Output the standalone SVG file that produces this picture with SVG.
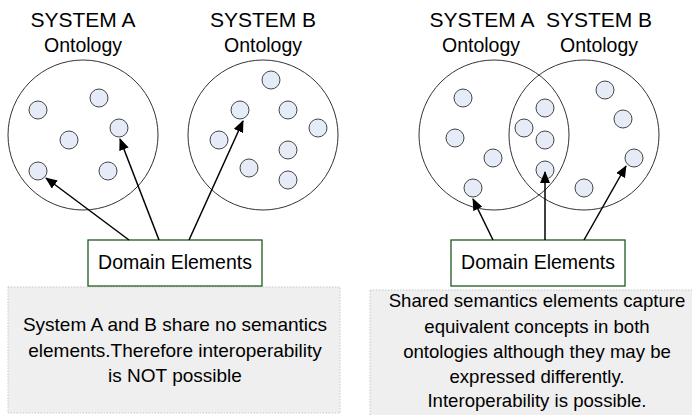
<svg xmlns="http://www.w3.org/2000/svg" width="692" height="415" viewBox="0 0 692 415">
<style>
text{font-family:"Liberation Sans",Arial,sans-serif;fill:#000;text-anchor:middle}
.s{font-size:21px}
.t{font-size:19.5px}
.b{font-size:19px}
.r{font-size:18.6px}
.big{fill:none;stroke:#333;stroke-width:1}
.dot{fill:#e6ecf7;stroke:#444;stroke-width:1}
.box{fill:#fff;stroke:#1e5a1e;stroke-width:1.3}
.note{fill:#efefef;stroke:#c8c8c8;stroke-width:1;stroke-dasharray:1.5 1.5}
.arr{stroke:#000;stroke-width:1.5;fill:none;marker-end:url(#ah)}
</style>
<defs>
<marker id="ah" viewBox="0 0 12 10" refX="11" refY="5" markerWidth="12" markerHeight="10" markerUnits="userSpaceOnUse" orient="auto">
<path d="M0,0 L12,5 L0,10 Z" fill="#000"/>
</marker>
</defs>
<g id="left-notes">
<rect class="note" x="8" y="287" width="332" height="126"/>
<text class="b" x="175" y="331">System A and B share no semantics</text>
<text class="b" x="175" y="357">elements.Therefore interoperability</text>
<text class="b" x="175" y="382">is NOT possible</text>
</g>
<g id="right-notes">
<rect class="note" x="370" y="290" width="330" height="130"/>
<text class="r" x="537" y="307">Shared semantics elements capture</text>
<text class="r" x="537" y="333">equivalent concepts in both</text>
<text class="r" x="537" y="358">ontologies although they may be</text>
<text class="r" x="537" y="383">expressed differently.</text>
<text class="r" x="537" y="407">Interoperability is possible.</text>
</g>
<g id="left-systemA">
<text class="s" x="83" y="27">SYSTEM A</text>
<text class="t" x="83" y="52">Ontology</text>
<circle class="big" cx="83" cy="135" r="75"/>
<circle class="dot" cx="38" cy="110" r="9"/>
<circle class="dot" cx="99" cy="98" r="9"/>
<circle class="dot" cx="69" cy="140" r="9"/>
<circle class="dot" cx="119" cy="128" r="9"/>
<circle class="dot" cx="38" cy="171" r="9"/>
<circle class="dot" cx="108" cy="171" r="9"/>
</g>
<g id="left-systemB">
<text class="s" x="263" y="27">SYSTEM B</text>
<text class="t" x="263" y="52">Ontology</text>
<circle class="big" cx="263" cy="135" r="75"/>
<circle class="dot" cx="271" cy="80" r="9"/>
<circle class="dot" cx="240" cy="110" r="9"/>
<circle class="dot" cx="288" cy="110" r="9"/>
<circle class="dot" cx="318" cy="128" r="9"/>
<circle class="dot" cx="219" cy="140" r="9"/>
<circle class="dot" cx="288" cy="150" r="9"/>
<circle class="dot" cx="249" cy="168" r="9"/>
<circle class="dot" cx="288" cy="180" r="9"/>
</g>
<g id="right-systems">
<text class="s" x="482" y="27">SYSTEM A</text>
<text class="t" x="481" y="52">Ontology</text>
<text class="s" x="599" y="27">SYSTEM B</text>
<text class="t" x="599" y="52">Ontology</text>
<circle class="big" cx="494" cy="135" r="75"/>
<circle class="big" cx="584" cy="135" r="75"/>
<circle class="dot" cx="463" cy="98" r="9"/>
<circle class="dot" cx="455" cy="138" r="9"/>
<circle class="dot" cx="493" cy="158" r="9"/>
<circle class="dot" cx="473" cy="188" r="9"/>
<circle class="dot" cx="524" cy="128" r="9"/>
<circle class="dot" cx="545" cy="108" r="9"/>
<circle class="dot" cx="545" cy="140" r="9"/>
<circle class="dot" cx="545" cy="170" r="9"/>
<circle class="dot" cx="605" cy="90" r="9"/>
<circle class="dot" cx="623" cy="119" r="9"/>
<circle class="dot" cx="634" cy="158" r="9"/>
<circle class="dot" cx="584" cy="188" r="9"/>
</g>
<g id="left-domain">
<rect class="box" x="88" y="240" width="174" height="46"/>
<text class="t" x="175" y="269">Domain Elements</text>
</g>
<g id="right-domain">
<rect class="box" x="451" y="240" width="174" height="46"/>
<text class="t" x="538" y="269">Domain Elements</text>
</g>
<g id="connectors">
<line class="arr" x1="129" y1="240" x2="46" y2="178"/>
<line class="arr" x1="159" y1="240" x2="120" y2="139"/>
<line class="arr" x1="189" y1="240" x2="243" y2="121"/>
<line class="arr" x1="493" y1="240" x2="473" y2="199"/>
<line class="arr" x1="545" y1="240" x2="545" y2="172"/>
<line class="arr" x1="584" y1="240" x2="626" y2="166"/>
</g>
</svg>
